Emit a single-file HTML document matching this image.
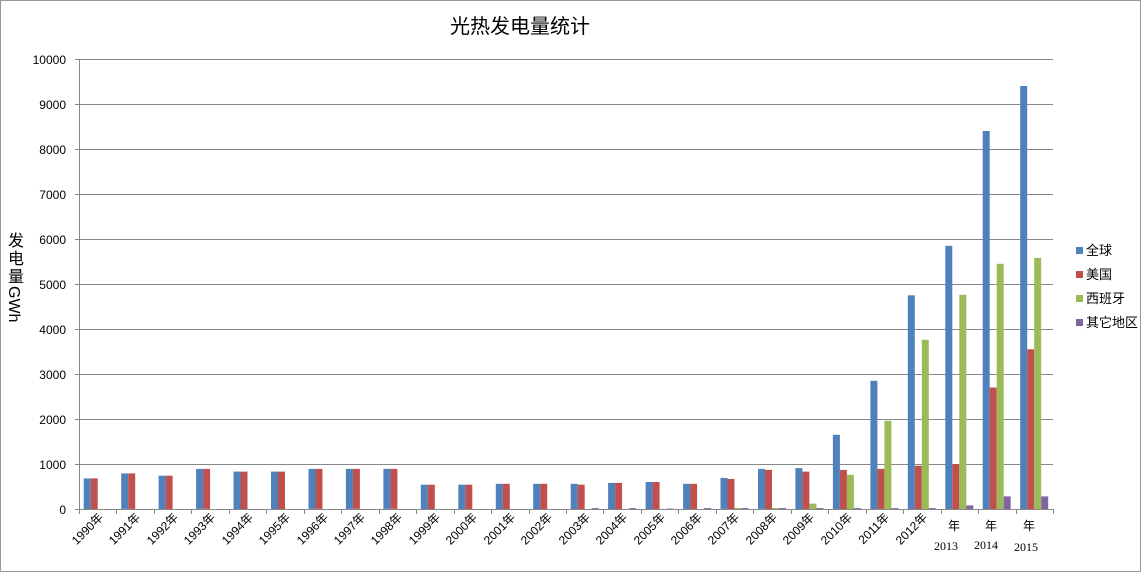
<!DOCTYPE html>
<html><head><meta charset="utf-8"><style>
html,body{margin:0;padding:0;background:#fff}
svg{display:block;font-family:"Liberation Sans","Noto Sans CJK SC",sans-serif}
</style></head><body>
<svg id="s" width="1142" height="573" xmlns="http://www.w3.org/2000/svg">
<rect x="0.5" y="0.5" width="1140" height="571" fill="#fff" stroke="#999"/>
<text x="520" y="33" font-size="20" text-anchor="middle" fill="#000">光热发电量统计</text>
<g stroke="#888" stroke-width="1">
<line x1="75" y1="59.5" x2="1053" y2="59.5"/>
<line x1="75" y1="104.5" x2="1053" y2="104.5"/>
<line x1="75" y1="149.5" x2="1053" y2="149.5"/>
<line x1="75" y1="194.5" x2="1053" y2="194.5"/>
<line x1="75" y1="239.5" x2="1053" y2="239.5"/>
<line x1="75" y1="284.5" x2="1053" y2="284.5"/>
<line x1="75" y1="329.5" x2="1053" y2="329.5"/>
<line x1="75" y1="374.5" x2="1053" y2="374.5"/>
<line x1="75" y1="419.5" x2="1053" y2="419.5"/>
<line x1="75" y1="464.5" x2="1053" y2="464.5"/>
</g>
<g id="bars"></g>
<g stroke="#888"><line x1="79.5" y1="59" x2="79.5" y2="509"/><line x1="75" y1="509.5" x2="1054" y2="509.5"/></g>
<g id="ticks" stroke="#888"></g>
<g font-size="12" text-anchor="end" fill="#000">
<text x="66" y="64">10000</text><text x="66" y="109">9000</text><text x="66" y="154">8000</text>
<text x="66" y="199">7000</text><text x="66" y="244">6000</text><text x="66" y="289">5000</text>
<text x="66" y="334">4000</text><text x="66" y="379">3000</text><text x="66" y="424">2000</text>
<text x="66" y="469">1000</text><text x="66" y="514">0</text>
</g>
<g font-size="16" fill="#000" text-anchor="middle">
<text x="16" y="246">发</text><text x="16" y="264">电</text><text x="16" y="282">量</text>
</g>
<text x="0" y="0" font-size="16" transform="translate(9,286) rotate(90)">GWh</text>
<g font-size="12" text-anchor="end" fill="#000">
<text transform="translate(104,518) rotate(-45)">1990年</text>
<text transform="translate(141,518) rotate(-45)">1991年</text>
<text transform="translate(179,518) rotate(-45)">1992年</text>
<text transform="translate(216,518) rotate(-45)">1993年</text>
<text transform="translate(254,518) rotate(-45)">1994年</text>
<text transform="translate(291,518) rotate(-45)">1995年</text>
<text transform="translate(329,518) rotate(-45)">1996年</text>
<text transform="translate(366,518) rotate(-45)">1997年</text>
<text transform="translate(403,518) rotate(-45)">1998年</text>
<text transform="translate(441,518) rotate(-45)">1999年</text>
<text transform="translate(478,518) rotate(-45)">2000年</text>
<text transform="translate(516,518) rotate(-45)">2001年</text>
<text transform="translate(553,518) rotate(-45)">2002年</text>
<text transform="translate(591,518) rotate(-45)">2003年</text>
<text transform="translate(628,518) rotate(-45)">2004年</text>
<text transform="translate(666,518) rotate(-45)">2005年</text>
<text transform="translate(703,518) rotate(-45)">2006年</text>
<text transform="translate(740,518) rotate(-45)">2007年</text>
<text transform="translate(778,518) rotate(-45)">2008年</text>
<text transform="translate(815,518) rotate(-45)">2009年</text>
<text transform="translate(853,518) rotate(-45)">2010年</text>
<text transform="translate(890,518) rotate(-45)">2011年</text>
<text transform="translate(928,518) rotate(-45)">2012年</text>
</g>
<g font-size="12" text-anchor="middle" fill="#000">
<text x="954" y="530">年</text><text x="946" y="550" font-family="Liberation Serif,serif">2013</text>
<text x="991" y="530">年</text><text x="986" y="549" font-family="Liberation Serif,serif">2014</text>
<text x="1029" y="530">年</text><text x="1026" y="551" font-family="Liberation Serif,serif">2015</text>
</g>
<g font-size="13" fill="#000">
<rect x="1076" y="247" width="7" height="7" fill="#4f81bd"/><text x="1086" y="255">全球</text>
<rect x="1076" y="271" width="7" height="7" fill="#c0504d"/><text x="1086" y="279">美国</text>
<rect x="1076" y="295" width="7" height="7" fill="#9bbb59"/><text x="1086" y="303">西班牙</text>
<rect x="1076" y="319" width="7" height="7" fill="#8064a2"/><text x="1086" y="327">其它地区</text>
</g>
</svg>
<script>
var d=[[680,680,0,0],[790,790,0,0],[740,740,0,0],[890,890,0,0],[830,830,0,0],[830,830,0,0],[890,890,0,0],[890,890,0,0],[890,890,0,0],[540,540,0,0],[540,540,0,0],[560,560,0,0],[560,560,0,0],[560,540,0,20],[580,580,0,20],[600,600,0,10],[560,560,0,20],[690,670,20,20],[890,870,20,20],[910,830,120,20],[1650,870,760,20],[2850,890,1960,20],[4750,960,3760,20],[5850,1000,4760,80],[8400,2700,5450,280],[9400,3550,5580,280]];
var c=["#4f81bd","#c0504d","#9bbb59","#8064a2"],s="",t="";
for(var i=0;i<26;i++){var x0=79+i*37.46;
for(var k=0;k<4;k++){var v=d[i][k];if(!v)continue;var h=v*0.045;
s+='<rect x="'+(x0+4.7+k*7).toFixed(1)+'" y="'+(509-h).toFixed(1)+'" width="7" height="'+h.toFixed(1)+'" fill="'+c[k]+'"/>';}
}
for(var i=0;i<=26;i++){var x=Math.round(79+i*37.46)+0.5;t+='<line x1="'+x+'" y1="509" x2="'+x+'" y2="514"/>';}
for(var y=59.5;y<=510;y+=45)t+='<line x1="75" y1="'+y+'" x2="79" y2="'+y+'"/>';
document.getElementById("bars").innerHTML=s;document.getElementById("ticks").innerHTML=t;
</script>
</body></html>
